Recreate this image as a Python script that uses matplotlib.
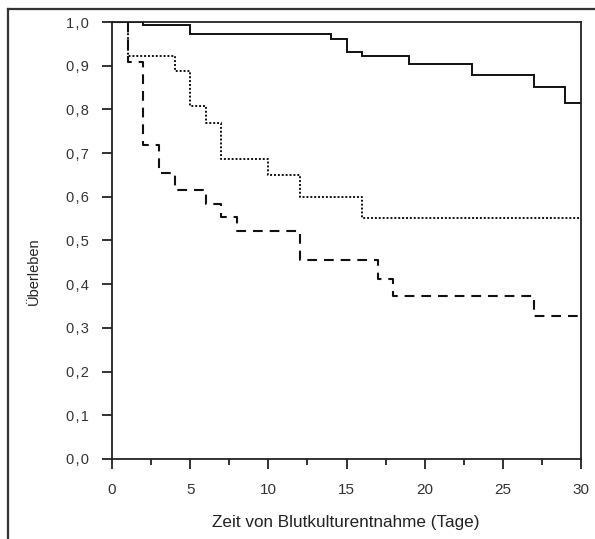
import matplotlib
matplotlib.use("Agg")
import matplotlib.pyplot as plt
from matplotlib.lines import Line2D
from matplotlib.ticker import MultipleLocator, FuncFormatter

plt.rcParams['font.family'] = ['Liberation Sans', 'DejaVu Sans']
plt.rcParams['lines.scale_dashes'] = False

# Kaplan-Meier step data: (day, survival) pairs, three groups
solid_t = [0, 2, 5, 14, 15, 16, 19, 23, 27, 29, 30]
solid_s = [1.0, 0.993, 0.972, 0.960, 0.932, 0.923, 0.905, 0.879, 0.851, 0.815, 0.815]

dotted_t = [0, 1, 4, 5, 6, 7, 10, 12, 16, 30]
dotted_s = [1.0, 0.922, 0.889, 0.808, 0.770, 0.686, 0.650, 0.600, 0.552, 0.552]

dashed_t = [0, 1, 2, 3, 4, 6, 7, 8, 12, 17, 18, 27, 30]
dashed_s = [1.0, 0.909, 0.718, 0.654, 0.616, 0.584, 0.553, 0.522, 0.455, 0.412, 0.374, 0.327, 0.327]

W, H = 595, 539
fig = plt.figure(figsize=(W / 100, H / 100), dpi=100)
ax = fig.add_axes([112 / W, 1 - 459 / H, (581 - 112) / W, (459 - 22) / H])

ax.step(solid_t, solid_s, where='post', color='#111111', lw=1.4, solid_joinstyle='miter')
ax.step(dotted_t, dotted_s, where='post', color='#111111', lw=1.4, linestyle=(0, (1.4, 1.4)))
ax.step(dashed_t, dashed_s, where='post', color='#111111', lw=1.5, linestyle=(0, (7, 5)))

ax.set_xlim(0, 30)
ax.set_ylim(0, 1.0)
ax.xaxis.set_major_locator(MultipleLocator(5))
ax.xaxis.set_minor_locator(MultipleLocator(2.5))
ax.yaxis.set_major_locator(MultipleLocator(0.1))
# german decimal comma, a little air around it
ax.yaxis.set_major_formatter(FuncFormatter(lambda v, p: f"{v:.1f}".replace('.', '\u200a,\u200a')))

for s in ax.spines.values():
    s.set_linewidth(1.3)
    s.set_color('#222222')
ax.tick_params(which='major', direction='out', length=7, width=1.3, color='#222222',
               labelsize=11, labelcolor='#333333')
ax.tick_params(axis='x', which='major', pad=10)
ax.tick_params(axis='y', which='major', pad=9.5, labelsize=10.5)
ax.tick_params(which='minor', direction='out', length=4, width=1.3, color='#222222')

fig.text(346 / W, 1 - 522 / H, 'Zeit von Blutkulturentnahme (Tage)', ha='center', va='center',
         fontsize=12.3, color='#222222')
fig.text(34 / W, 1 - 271 / H, 'Überleben', rotation=90, ha='center', va='center',
         fontsize=10.5, color='#222222')

# outer frame lines along top and left
fig.add_artist(Line2D([7.5 / W, 1], [1 - 9 / H, 1 - 9 / H], color='#333333', lw=1.6))
fig.add_artist(Line2D([7.5 / W, 7.5 / W], [0, 1 - 9 / H], color='#333333', lw=1.6))

fig.savefig('out.png', dpi=100)
